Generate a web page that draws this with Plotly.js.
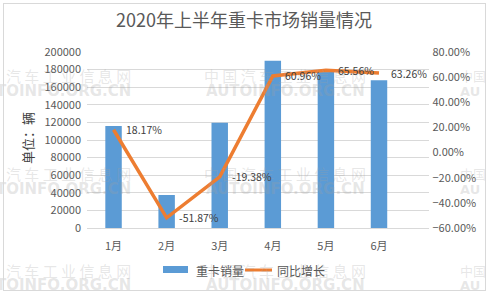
<!DOCTYPE html>
<html><head><meta charset="utf-8">
<script src="https://cdn.plot.ly/plotly-3.0.1.min.js"></script>
<style>html,body{margin:0;padding:0;background:#fff}#c{width:488px;height:293px}
#frame{position:absolute;left:3px;top:3px;width:481px;height:286px;border:1px solid #d9d9d9;pointer-events:none}</style>
</head><body><div id="c"></div><div id="frame"></div>
<script>
const months = ['1月','2月','3月','4月','5月','6月'];
const sales = [116000, 37500, 119600, 190100, 178000, 168000];
const growth = [18.17, -51.87, -19.38, 60.96, 65.56, 63.26];
const growthLabels = ['18.17%','-51.87%','-19.38%','60.96%','65.56%','63.26%'];
const seriesNames = ['重卡销量','同比增长'];

const F = '"Noto Sans CJK SC", "Noto Sans", sans-serif';
const W = 488, H = 293, L = 87, R = 429, T = 52, B = 228;
const px = x => (x - L) / (R - L);
const py = y => (B - y) / (B - T);
const ann = [];
const shapes = [];

// watermarks
const wmColor = 'rgba(160,160,160,0.26)';
const wm = [
  ['汽 车 工 业 信 息 网', 'TOINFO.ORG.CN', 133, 'right'],
  ['中 国 汽 车 工 业 信 息 网', 'AUTOINFO.ORG.CN', 285, 'center'],
  ['中国', 'AU', 458, 'left']
];
[[75,91],[173,189],[270,285]].forEach(r => wm.forEach(w => {
  ann.push({xref:'paper', yref:'paper', x:px(w[2]), y:py(r[0]), text:w[0], showarrow:false,
    font:{family:F, size:w[3]==='left'?13:15, color:wmColor}, xanchor:w[3], yanchor:'middle'});
  ann.push({xref:'paper', yref:'paper', x:px(w[2]), y:py(r[1]), text:w[1], showarrow:false,
    font:{family:'"DejaVu Sans", sans-serif', size:w[3]==='left'?13:15, color:wmColor, weight:'bold'}, xanchor:w[3], yanchor:'middle'});
}));

// y axis title
ann.push({xref:'paper', yref:'paper', x:px(27), y:py(138), text:'单位：辆', textangle:-90, showarrow:false,
  font:{family:F, size:13, color:'#404040'}, xanchor:'center', yanchor:'middle'});

// data labels
months.forEach((m, i) => ann.push({x:m, y:growth[i], xref:'x', yref:'y2', text:growthLabels[i], showarrow:false,
  xanchor:'left', yanchor:'middle', xshift:10, font:{family:F, size:10.5, color:'#404040'}}));

// manual legend
shapes.push({type:'rect', xref:'paper', yref:'paper', x0:px(163), x1:px(188), y0:py(273), y1:py(266),
  fillcolor:'#5B9BD5', line:{width:0}});
ann.push({xref:'paper', yref:'paper', x:px(194), y:py(270), text:seriesNames[0], showarrow:false,
  xanchor:'left', yanchor:'middle', font:{family:F, size:12, color:'#595959'}});
shapes.push({type:'line', xref:'paper', yref:'paper', x0:px(245), x1:px(272), y0:py(270), y1:py(270),
  line:{color:'#ED7D31', width:3}});
ann.push({xref:'paper', yref:'paper', x:px(275), y:py(270), text:seriesNames[1], showarrow:false,
  xanchor:'left', yanchor:'middle', font:{family:F, size:12, color:'#595959'}});

const data = [
  {type:'bar', name:seriesNames[0], x:months, y:sales, marker:{color:'#5B9BD5'}, width:0.31},
  {type:'scatter', mode:'lines', name:seriesNames[1], x:months, y:growth, yaxis:'y2',
   line:{color:'#ED7D31', width:3.5}}
];
const layout = {
  width:W, height:H, margin:{l:L, r:W-R, t:T, b:H-B},
  paper_bgcolor:'#fff', plot_bgcolor:'#fff',
  title:{text:'2020年上半年重卡市场销量情况', x:0.5, xanchor:'center', y:1-21/H, yanchor:'middle',
    font:{family:F, size:18, color:'#595959'}},
  font:{family:F, size:11, color:'#595959'},
  showlegend:false,
  xaxis:{showgrid:false, showline:true, linecolor:'#d9d9d9', linewidth:1,
    tickfont:{size:11, color:'#595959'}, ticklabelstandoff:8},
  yaxis:{range:[0,200000], dtick:20000, tickformat:'d', ticksuffix:'  ', showgrid:true, gridcolor:'#d9d9d9', gridwidth:1,
    zeroline:false, showline:false, tickfont:{size:11, color:'#595959'}},
  yaxis2:{range:[-60,80], dtick:20, overlaying:'y', side:'right', showgrid:false, zeroline:false, showline:false,
    tickformat:'.2f', tickprefix:' ', ticksuffix:'%', tickfont:{size:11, color:'#595959'}},
  annotations:ann,
  shapes:shapes
};
Plotly.newPlot('c', data, layout, {displayModeBar:false, staticPlot:true});
</script></body></html>
